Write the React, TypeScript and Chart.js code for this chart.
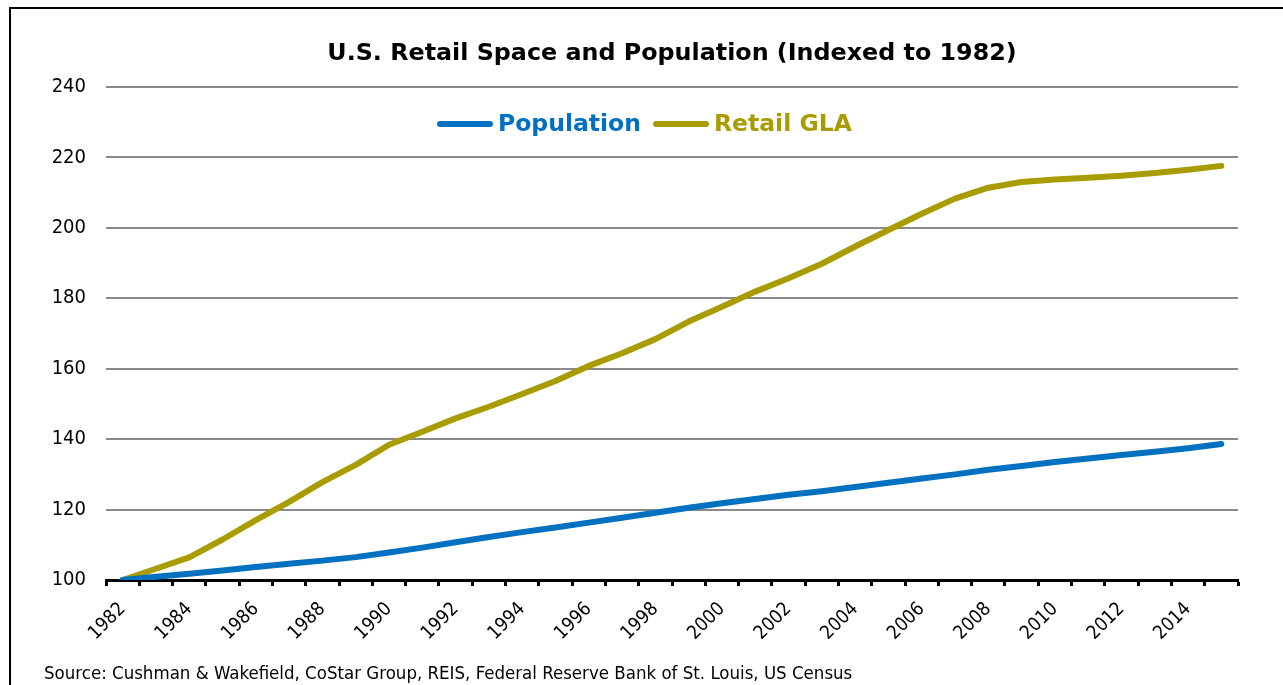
import React, { useEffect, useRef } from "react";
import { Chart, registerables } from "chart.js";

Chart.register(...registerables);

const years: string[] = [
  "1982", "1983", "1984", "1985", "1986", "1987", "1988", "1989", "1990", "1991",
  "1992", "1993", "1994", "1995", "1996", "1997", "1998", "1999", "2000", "2001",
  "2002", "2003", "2004", "2005", "2006", "2007", "2008", "2009", "2010", "2011",
  "2012", "2013", "2014", "2015",
];

const population: number[] = [
  100, 100.9, 101.8, 102.7, 103.7, 104.6, 105.5, 106.5, 107.8, 109.2,
  110.7, 112.2, 113.6, 114.9, 116.3, 117.7, 119.1, 120.5, 121.8, 123.0,
  124.2, 125.2, 126.4, 127.6, 128.8, 130.0, 131.3, 132.4, 133.5, 134.5,
  135.5, 136.4, 137.4, 138.6,
];

const retailGLA: number[] = [
  100, 103.2, 106.4, 111.5, 117.0, 122.2, 127.8, 132.7, 138.4, 142.1,
  145.9, 149.2, 152.8, 156.5, 160.8, 164.4, 168.4, 173.4, 177.6, 181.9,
  185.7, 189.8, 194.7, 199.4, 204.0, 208.3, 211.4, 213.0, 213.7, 214.2,
  214.8, 215.6, 216.5, 217.6,
];

const yTicks: number[] = [100, 120, 140, 160, 180, 200, 220, 240];

const titleText = "U.S. Retail Space and Population (Indexed to 1982)";
const sourceText =
  "Source: Cushman & Wakefield, CoStar Group, REIS, Federal Reserve Bank of St. Louis, US Census";
const seriesNames: string[] = ["Population", "Retail GLA"];
const seriesColors: string[] = ["#0070C0", "#A89C00"];

const FONT = "'DejaVu Sans Condensed', 'DejaVu Sans', sans-serif";
const WIDE_FONT = "'DejaVu Sans', sans-serif";

const decorPlugin = {
  id: "decor",
  afterDraw(chart: any) {
    const ctx = chart.ctx as CanvasRenderingContext2D;
    const area = chart.chartArea;
    ctx.save();
    // frame
    ctx.strokeStyle = "#000";
    ctx.lineWidth = 2;
    ctx.beginPath();
    ctx.moveTo(10, 700);
    ctx.lineTo(10, 8);
    ctx.lineTo(1300, 8);
    ctx.stroke();

    // title
    const cx = (area.left + area.right) / 2;
    ctx.fillStyle = "#000";
    ctx.font = `bold 23.8px ${WIDE_FONT}`;
    ctx.textAlign = "center";
    ctx.textBaseline = "middle";
    ctx.fillText(titleText, cx, 54);

    // legend
    ctx.font = `bold 23.5px ${WIDE_FONT}`;
    ctx.textAlign = "left";
    const lineLen = 56;
    const gap = 5;
    const itemGap = 12;
    let x = 437;
    const ly = 124;
    seriesNames.forEach((name, i) => {
      const w = ctx.measureText(name).width;
      ctx.strokeStyle = seriesColors[i];
      ctx.lineWidth = 6;
      ctx.lineCap = "round";
      ctx.beginPath();
      ctx.moveTo(x + 3, ly);
      ctx.lineTo(x + lineLen - 3, ly);
      ctx.stroke();
      x += lineLen + gap;
      ctx.fillStyle = seriesColors[i];
      ctx.fillText(name, x, ly + 1);
      x += w + itemGap;
    });

    // source
    ctx.fillStyle = "#000";
    ctx.font = `18.5px ${FONT}`;
    ctx.textAlign = "left";
    ctx.fillText(sourceText, 44, 674);
    ctx.restore();
  },
};

export default function App() {
  const canvasRef = useRef<HTMLCanvasElement | null>(null);

  useEffect(() => {
    const canvas = canvasRef.current;
    if (!canvas) return;
    const chart = new Chart(canvas, {
      type: "line",
      data: {
        labels: years,
        datasets: [
          {
            label: seriesNames[0],
            data: population,
            borderColor: seriesColors[0],
            backgroundColor: seriesColors[0],
            borderWidth: 6,
            pointRadius: 0,
            tension: 0,
            borderCapStyle: "round",
            borderJoinStyle: "round",
          },
          {
            label: seriesNames[1],
            data: retailGLA,
            borderColor: seriesColors[1],
            backgroundColor: seriesColors[1],
            borderWidth: 6,
            pointRadius: 0,
            tension: 0,
            borderCapStyle: "round",
            borderJoinStyle: "round",
          },
        ],
      },
      options: {
        animation: false,
        responsive: false,
        devicePixelRatio: 1,
        layout: { padding: { top: 87, right: 45, bottom: 0, left: 0 } },
        plugins: {
          legend: { display: false },
          title: { display: false },
          tooltip: { enabled: false },
        },
        scales: {
          x: {
            type: "category",
            offset: true,
            grid: {
              offset: true,
              drawOnChartArea: false,
              drawTicks: true,
              tickLength: 6,
              tickWidth: 3,
              tickColor: "#000",
            },
            border: { display: true, width: 3, color: "#000" },
            ticks: {
              autoSkip: false,
              maxRotation: 45,
              minRotation: 45,
              color: "#000",
              padding: 12,
              font: { family: FONT, size: 19 },
              callback: (_v: any, i: number) => (i % 2 === 0 ? years[i] : ""),
            },
            afterFit: (scale: any) => {
              scale.height = 105;
            },
          },
          y: {
            min: yTicks[0],
            max: yTicks[yTicks.length - 1],
            afterBuildTicks: (scale: any) => {
              scale.ticks = yTicks.map((v) => ({ value: v }));
            },
            grid: {
              drawTicks: false,
              color: "#8a8a8a",
              lineWidth: 2,
            },
            border: { display: false },
            ticks: {
              color: "#000",
              padding: 20,
              font: { family: FONT, size: 20 },
            },
            afterFit: (scale: any) => {
              scale.width = 106;
            },
          },
        },
      },
      plugins: [decorPlugin],
    });
    return () => chart.destroy();
  }, []);

  return (
    <div style={{ position: "absolute", left: 0, top: 0, width: 1283, height: 685, background: "#fff" }}>
      <canvas ref={canvasRef} width={1283} height={685} style={{ display: "block" }} />
    </div>
  );
}
